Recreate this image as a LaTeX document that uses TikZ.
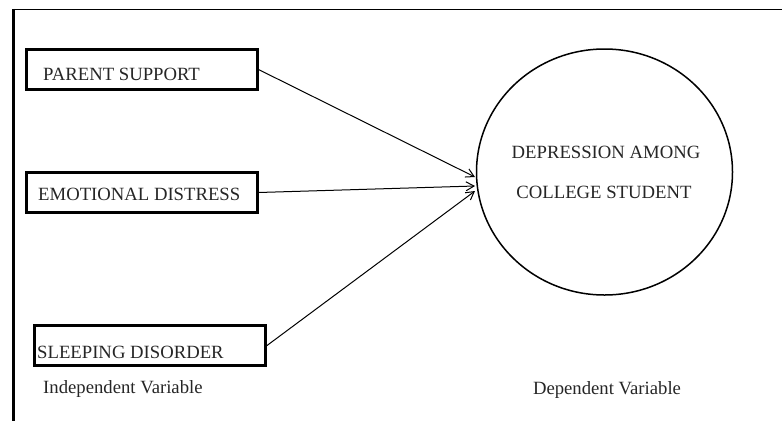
\documentclass[tikz,border=0pt]{standalone}
\usepackage{fontspec}
\setmainfont{Liberation Serif}
\usetikzlibrary{arrows.meta,shapes.geometric}
\begin{document}
\begin{tikzpicture}[x=1pt,y=-1pt,
  varbox/.style={draw,line width=3pt,rectangle,inner sep=0pt,minimum width=231pt,minimum height=40pt},
  lbl/.style={inner sep=0pt,anchor=base west,font=\fontsize{18.7}{22}\selectfont,text=black!85},
  clbl/.style={inner sep=0pt,anchor=base,font=\fontsize{18.7}{22}\selectfont,text=black!85},
  conn/.style={line width=1pt,-{Straight Barb[length=8pt,width=9pt]}}]
\useasboundingbox (0,0) rectangle (782,421);
% frame
\draw[line width=1.4pt] (12,9.5) -- (782,9.5);
\draw[line width=3pt] (13.5,8.8) -- (13.5,421);
% boxes
\node[varbox] (ps) at (141.5,69.5) {};
\node[varbox] (ed) at (141.5,192.5) {};
\node[varbox] (sd) at (150,345.5) {};
\node[lbl] (pst) at (43,80) {PARENT SUPPORT};
\node[lbl] (edt) at (38,200) {EMOTIONAL DISTRESS};
\node[lbl] (sdt) at (37,358) {SLEEPING DISORDER};
\node[lbl] (iv) at (43,393) {Independent Variable};
% dependent
\node[draw,ellipse,line width=1.5pt,inner sep=0pt,minimum width=256pt,minimum height=246pt] (dep) at (604.5,172) {};
\node[clbl] (dl1) at (606,158) {DEPRESSION AMONG};
\node[clbl] (dl2) at (604,198) {COLLEGE STUDENT};
\node[clbl] (dv) at (607,394) {Dependent Variable};
% arrow tips
\coordinate (t1) at (475,177);
\coordinate (t2) at (475,186);
\coordinate (t3) at (475,191);
\draw[conn] (ps.east) -- (t1);
\draw[conn] (ed.east) -- (t2);
\draw[conn] (sd.east) -- (t3);
\end{tikzpicture}
\end{document}
